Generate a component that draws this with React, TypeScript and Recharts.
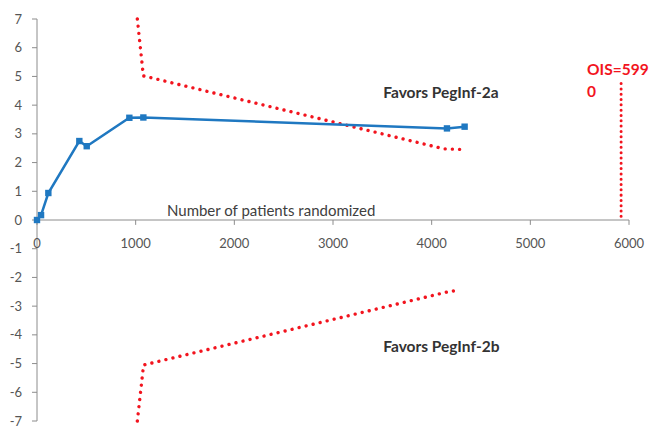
import React from 'react';
import { ComposedChart, Line, XAxis, YAxis, ReferenceLine, ReferenceDot } from 'recharts';

// Cumulative Z-curve (blue)
const zPatients = [0, 41, 115, 429, 504, 936, 1078, 4155, 4334];
const zValues = [0, 0.17, 0.94, 2.75, 2.57, 3.56, 3.57, 3.19, 3.25];

// Upper monitoring boundary (red dotted)
const upperPatients = [1017, 1078, 4121, 4341];
const upperValues = [7, 5.02, 2.48, 2.45];

// Lower monitoring boundary (red dotted)
const lowerPatients = [1017, 1080, 4190, 4263];
const lowerValues = [-7, -5.05, -2.48, -2.46];

// Optimal information size line
const oisPatients = [5920, 5920];
const oisValues = [4.75, 0.1];

const xTicks = [0, 1000, 2000, 3000, 4000, 5000, 6000];
const yTicks = [-7, -6, -5, -4, -3, -2, -1, 0, 1, 2, 3, 4, 5, 6, 7];

const toRows = (xs: number[], ys: number[]) => xs.map((x, i) => ({ x, y: ys[i] }));

const zData = toRows(zPatients, zValues);
const upperData = toRows(upperPatients, upperValues);
const lowerData = toRows(lowerPatients, lowerValues);
const oisData = toRows(oisPatients, oisValues);

const FONT = 'Lato, "Liberation Sans", sans-serif';
const BLUE = '#1F78C1';
const RED = '#F2141E';
const AXIS = '#8C8C8C';
const TEXT = '#555555';

const SquareDot = (props: any) => {
  const { cx, cy, index } = props;
  if (cx == null || cy == null) return <g key={`d${index}`} />;
  return <rect key={`d${index}`} x={cx - 3.2} y={cy - 3.2} width={6.4} height={6.4} fill={BLUE} />;
};

export default function App() {
  return (
    <div style={{ position: 'absolute', left: 0, top: 0, width: 649, height: 428, background: '#fff' }}>
      <ComposedChart
        width={649}
        height={428}
        margin={{ top: 19, right: 20, bottom: 7, left: 0 }}
        style={{ fontFamily: FONT }}
      >
        <XAxis type="number" dataKey="x" domain={[0, 6000]} ticks={xTicks} hide />
        <YAxis
          type="number"
          domain={[-7, 7]}
          ticks={yTicks}
          interval={0}
          width={37}
          axisLine={{ stroke: AXIS, strokeWidth: 1 }}
          tickLine={{ stroke: AXIS }}
          tickSize={5}
          tickMargin={10}
          tick={{ fill: TEXT, fontSize: 13, fontFamily: FONT }}
        />
        <ReferenceLine y={0} stroke={AXIS} strokeWidth={1} />
        {xTicks.map((t) => (
          <ReferenceLine
            key={`xt${t}`}
            segment={[{ x: t, y: 0 }, { x: t, y: -0.17 }]}
            stroke={AXIS}
            strokeWidth={1}
            label={{ value: String(t), position: 'bottom', offset: 14, fill: TEXT, fontSize: 13, fontFamily: FONT }}
          />
        ))}
        <Line
          data={upperData}
          dataKey="y"
          type="linear"
          stroke={RED}
          strokeWidth={3.4}
          strokeDasharray="0.01 7.2"
          strokeLinecap="round"
          dot={false}
          isAnimationActive={false}
        />
        <Line
          data={lowerData}
          dataKey="y"
          type="linear"
          stroke={RED}
          strokeWidth={3.4}
          strokeDasharray="0.01 7.2"
          strokeLinecap="round"
          dot={false}
          isAnimationActive={false}
        />
        <Line
          data={oisData}
          dataKey="y"
          type="linear"
          stroke={RED}
          strokeWidth={3}
          strokeDasharray="0.01 5.3"
          strokeLinecap="round"
          dot={false}
          isAnimationActive={false}
        />
        <Line
          data={zData}
          dataKey="y"
          type="linear"
          stroke={BLUE}
          strokeWidth={2.5}
          dot={<SquareDot />}
          isAnimationActive={false}
        />
        <ReferenceDot
          x={2373}
          y={0.31}
          r={0}
          fill="none"
          stroke="none"
          label={{ value: 'Number of patients randomized', position: 'center', fill: '#404040', fontSize: 15, fontFamily: FONT }}
        />
        <ReferenceDot
          x={3509}
          y={4.43}
          r={0}
          fill="none"
          stroke="none"
          label={{ value: 'Favors PegInf-2a', position: 'right', offset: 0, fill: '#333333', fontSize: 15.5, fontWeight: 'bold', fontFamily: FONT }}
        />
        <ReferenceDot
          x={3509}
          y={-4.4}
          r={0}
          fill="none"
          stroke="none"
          label={{ value: 'Favors PegInf-2b', position: 'right', offset: 0, fill: '#333333', fontSize: 15.5, fontWeight: 'bold', fontFamily: FONT }}
        />
        <ReferenceDot
          x={5575}
          y={5.23}
          r={0}
          fill="none"
          stroke="none"
          label={{ value: 'OIS=599', position: 'right', offset: 0, fill: RED, fontSize: 15.5, fontWeight: 'bold', fontFamily: FONT }}
        />
        <ReferenceDot
          x={5575}
          y={4.47}
          r={0}
          fill="none"
          stroke="none"
          label={{ value: '0', position: 'right', offset: 0, fill: RED, fontSize: 15.5, fontWeight: 'bold', fontFamily: FONT }}
        />
      </ComposedChart>
    </div>
  );
}
